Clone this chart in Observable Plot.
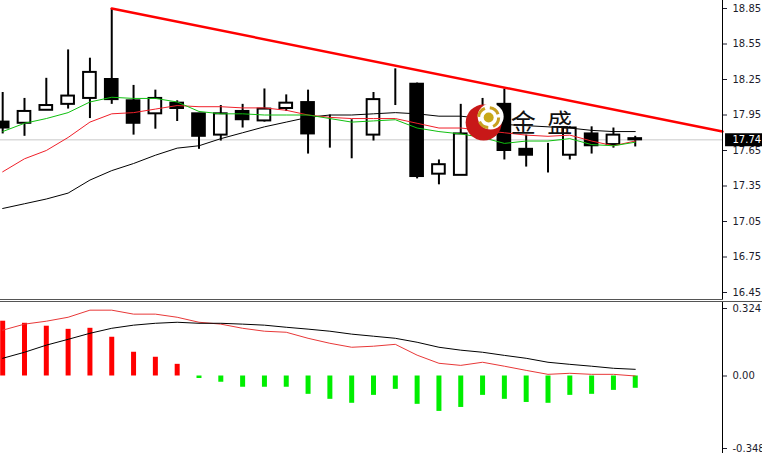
<!DOCTYPE html>
<html><head><meta charset="utf-8">
<script src="https://cdn.jsdelivr.net/npm/d3@7"></script>
<script src="https://cdn.jsdelivr.net/npm/@observablehq/plot@0.6"></script>
<style>
html,body{margin:0;padding:0;background:#fff;}
body{width:762px;height:453px;overflow:hidden;}
#main svg,#macd svg{display:block;}
.sep1{width:723px;height:1px;background:#555;}
.gap{height:1px;}
.sep2{width:762px;height:1px;background:#555;}
</style></head><body>
<div id="main"></div><div class="sep1"></div><div class="gap"></div><div class="sep2"></div><div id="macd"></div>
<script>
// ---- price candles ----
const opens  = [17.89,17.88,17.99,18.04,18.09,18.25,18.07,17.96,18.05,17.96,17.78,17.98,17.90,18.005,18.055,17.78,17.77,17.78,18.11,18.21,17.45,17.44,17.80,18.04,17.66,17.59,17.61,17.79,17.70,17.75];
const highs  = [18.14,18.09,18.26,18.50,18.43,18.85,18.20,18.16,18.07,17.96,18.03,18.04,18.17,18.12,18.16,17.95,17.91,18.14,18.34,18.22,17.57,18.04,18.09,18.17,17.78,17.71,17.85,17.85,17.84,17.77];
const lows   = [17.79,17.77,17.99,18.00,17.92,18.04,17.78,17.83,17.895,17.66,17.73,17.84,17.89,17.98,17.62,17.67,17.58,17.73,18.03,17.41,17.36,17.44,17.74,17.57,17.51,17.46,17.57,17.62,17.67,17.68];
const closes = [17.84,17.98,18.03,18.11,18.31,18.08,17.88,18.09,18.005,17.77,17.96,17.91,18.00,18.05,17.79,17.78,17.77,18.08,18.11,17.43,17.53,17.79,17.98,17.65,17.61,17.59,17.84,17.69,17.78,17.74];
// ---- moving averages ----
const maFast = [17.81,17.88,17.92,17.97,18.06,18.10,18.09,18.09,18.06,17.98,17.96,17.96,17.95,17.95,17.95,17.92,17.89,17.90,17.91,17.84,17.81,17.79,17.76,17.71,17.73,17.73,17.75,17.70,17.69,17.72];
const maMid  = [17.47,17.58,17.65,17.76,17.89,17.96,17.97,18.00,18.03,18.02,18.02,18.01,18.01,17.99,17.95,17.93,17.92,17.92,17.92,17.88,17.84,17.84,17.82,17.80,17.78,17.77,17.78,17.73,17.69,17.73];
const maSlow = [17.16,17.20,17.24,17.29,17.40,17.48,17.54,17.61,17.67,17.69,17.75,17.80,17.85,17.89,17.93,17.95,17.95,17.96,17.97,17.96,17.94,17.94,17.92,17.87,17.86,17.85,17.84,17.82,17.81,17.81];
// ---- trend line ----
const trendIdx   = [5, 33];
const trendPrice = [18.85, 17.81];
// ---- MACD panel ----
const macdHist   = [0.263,0.253,0.239,0.224,0.229,0.186,0.114,0.090,0.056,-0.008,-0.030,-0.054,-0.054,-0.054,-0.088,-0.112,-0.131,-0.093,-0.064,-0.136,-0.170,-0.151,-0.093,-0.112,-0.127,-0.131,-0.093,-0.088,-0.069,-0.059];
const macdRed    = [0.220,0.249,0.263,0.282,0.316,0.316,0.297,0.297,0.282,0.258,0.249,0.229,0.215,0.210,0.181,0.157,0.138,0.143,0.152,0.100,0.061,0.051,0.066,0.047,0.027,0.008,0.013,0.008,0.008,0.000];
const macdBlack  = [0.085,0.114,0.148,0.176,0.205,0.229,0.244,0.253,0.258,0.253,0.253,0.249,0.244,0.234,0.225,0.215,0.201,0.191,0.181,0.162,0.138,0.124,0.114,0.099,0.085,0.066,0.056,0.047,0.037,0.032];
// ---- ticks & text ----
const priceTicks = [18.85,18.55,18.25,17.95,17.65,17.35,17.05,16.75,16.45];
const macdTicks  = [0.324,0.00,-0.348];
const watermark  = "金 盛";
const logoAt     = {i: 22.05, p: 17.886};
const textAt     = {i: 24.7, p: 17.875};

const n = closes.length;
const idx = d3.range(n);
const candles = idx.map(i => ({i, open: opens[i], high: highs[i], low: lows[i], close: closes[i]}));
const trend = trendIdx.map((x, k) => ({x, y: trendPrice[k]}));
const last = closes[n - 1];
const xDomain = [-0.1, 33.0];
const font = {fontFamily: "DejaVu Sans", fontSize: "10px", color: "#1c1c2c", background: "white", overflow: "hidden"};

const main = Plot.plot({
  width: 762, height: 299,
  marginLeft: 0, marginRight: 40, marginTop: 0, marginBottom: 0,
  x: {domain: xDomain, axis: null},
  y: {domain: [16.45, 18.85], range: [292, 8], axis: null},
  style: font,
  marks: [
    Plot.ruleY([last], {stroke: "#c8c8c8", strokeWidth: 1}),
    Plot.ruleX(candles, {x: "i", y1: "low", y2: "high", stroke: "#000", strokeWidth: 2}),
    Plot.rect(candles, {x1: d => d.i - 0.29, x2: d => d.i + 0.29, y1: "open", y2: "close",
      fill: d => d.close > d.open ? "#fff" : "#000", stroke: "#000", strokeWidth: 2}),
    Plot.line(idx, {x: i => i, y: i => maSlow[i], stroke: "#000", strokeWidth: 1}),
    Plot.line(idx, {x: i => i, y: i => maMid[i], stroke: "#f0202a", strokeWidth: 1}),
    Plot.line(idx, {x: i => i, y: i => maFast[i], stroke: "#10c010", strokeWidth: 1}),
    Plot.line(trend, {x: "x", y: "y", stroke: "#ff0000", strokeWidth: 2.5}),
    // watermark logo
    Plot.dot([logoAt], {x: "i", y: "p", r: 18, fill: "#c81818"}),
    Plot.dot([logoAt], {x: "i", y: "p", r: 13, dx: 7, dy: -6, fill: "#fff"}),
    Plot.dot([logoAt], {x: "i", y: "p", r: 10, dx: 5, dy: -5, fill: "none", stroke: "#c8a020", strokeWidth: 3, strokeDasharray: "11 5"}),
    Plot.dot([logoAt], {x: "i", y: "p", r: 5, dx: 5, dy: -5, fill: "#c8a818"}),
    Plot.text([watermark], {x: () => textAt.i, y: () => textAt.p, text: d => d, fontSize: 25, fontFamily: "Noto Sans CJK SC", fill: "#111"}),
    Plot.ruleX([xDomain[1]], {stroke: "#000", strokeWidth: 1}),
    Plot.axisY(priceTicks, {anchor: "right", tickSize: 4, tickPadding: 6, tickFormat: d3.format(".2f"), fontSize: 10}),
    Plot.ruleY([last], {x1: () => xDomain[1] + 0.14, x2: () => xDomain[1] + 3, stroke: "#000", strokeWidth: 13}),
    Plot.text([last], {y: d => d, frameAnchor: "right", dx: 10, textAnchor: "start", text: d => d.toFixed(2), fill: "#fff", fontSize: 10})
  ]
});
d3.select(main).selectAll("text").filter(function() { return this.textContent === watermark; }).attr("word-spacing", "6px");
document.getElementById("main").appendChild(main);

const macdData = idx.map(i => ({i, h: macdHist[i], r: macdRed[i], b: macdBlack[i]}));
const macd = Plot.plot({
  width: 762, height: 151,
  marginLeft: 0, marginRight: 40, marginTop: 0, marginBottom: 0,
  x: {domain: xDomain, axis: null},
  y: {domain: [-0.348, 0.324], range: [146, 6], axis: null},
  style: font,
  marks: [
    Plot.ruleX(macdData, {x: "i", y1: () => 0, y2: d => (Math.abs(d.h) < 0.012 ? -0.012 : d.h), stroke: d => d.h >= 0 ? "#ff0000" : "#00ee00", strokeWidth: 5}),
    Plot.line(macdData, {x: "i", y: "r", stroke: "#e83838", strokeWidth: 1}),
    Plot.line(macdData, {x: "i", y: "b", stroke: "#000", strokeWidth: 1}),
    Plot.ruleX([xDomain[1]], {stroke: "#000", strokeWidth: 1}),
    Plot.axisY(macdTicks, {anchor: "right", tickSize: 4, tickPadding: 6, tickFormat: d => d === 0 ? "0.00" : d.toFixed(3), fontSize: 10})
  ]
});
document.getElementById("macd").appendChild(macd);
</script>
</body></html>
